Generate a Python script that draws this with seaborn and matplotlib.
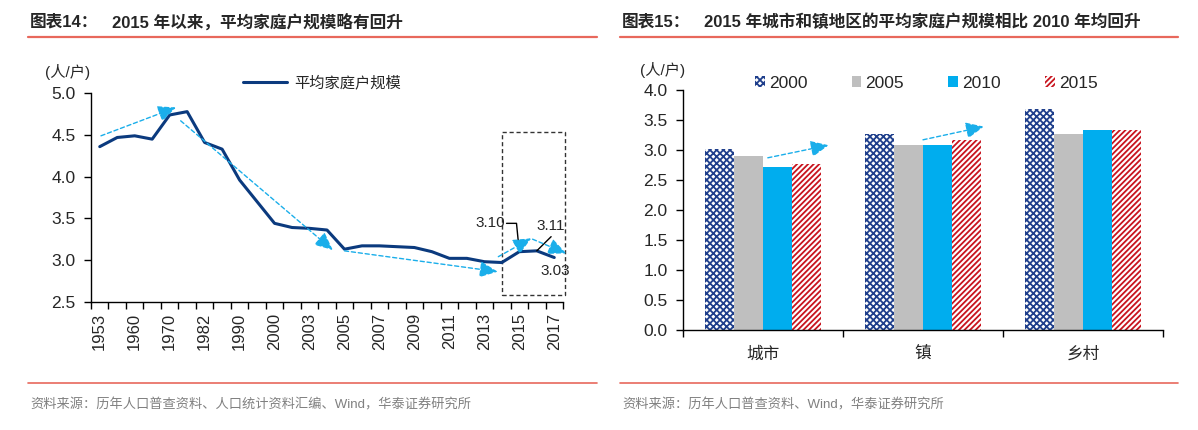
import numpy as np
import pandas as pd
import matplotlib
matplotlib.use("Agg")
import matplotlib.pyplot as plt
from matplotlib.patches import Rectangle, Patch
import seaborn as sns

# ---------------- data ----------------
years = ['1953', '1957', '1960', '1964', '1970', '1975', '1982', '1987', '1990', '1995',
         '2000', '2002', '2003', '2004', '2005', '2006', '2007', '2008', '2009', '2010',
         '2011', '2012', '2013', '2014', '2015', '2016', '2017']
household_size = [4.36, 4.47, 4.49, 4.45, 4.74, 4.78, 4.41, 4.33, 3.96, 3.70,
                  3.44, 3.39, 3.38, 3.36, 3.13, 3.17, 3.17, 3.16, 3.15, 3.10,
                  3.02, 3.02, 2.98, 2.97, 3.10, 3.11, 3.03]
areas = ['城市', '镇', '乡村']
census_years = ['2000', '2005', '2010', '2015']
size_2000 = [3.02, 3.26, 3.68]
size_2005 = [2.90, 3.09, 3.27]
size_2010 = [2.71, 3.08, 3.33]
size_2015 = [2.77, 3.17, 3.33]

W, H = 1198, 430
sns.set_style("ticks")
plt.rcParams['font.family'] = ['Liberation Sans', 'Noto Sans CJK SC', 'DejaVu Sans']
plt.rcParams['hatch.linewidth'] = 1.3
plt.rcParams['axes.linewidth'] = 1.0

NAVY = '#0B3A7E'
ARROW = '#1AAEEA'
RED_LINE = '#E8685C'

fig = plt.figure(figsize=(W / 100, H / 100), dpi=100)


def fx(px):
    return px / W


def fy(py):
    return 1 - py / H


# ---------------- headers / footers ----------------
for x0, x1 in [(28, 597), (620, 1178)]:
    fig.add_artist(plt.Line2D([fx(x0), fx(x1)], [fy(37), fy(37)], color=RED_LINE, lw=1.6))
    fig.add_artist(plt.Line2D([fx(x0), fx(x1)], [fy(383), fy(383)], color=RED_LINE, lw=1.2))

fig.text(fx(30), fy(22), '图表14：', fontsize=12, fontweight='bold', va='center')
fig.text(fx(112), fy(22), '2015 年以来，平均家庭户规模略有回升', fontsize=12, fontweight='bold', va='center')
fig.text(fx(622), fy(22), '图表15：', fontsize=12, fontweight='bold', va='center')
fig.text(fx(704), fy(22), '2015 年城市和镇地区的平均家庭户规模相比 2010 年均回升', fontsize=12,
         fontweight='bold', va='center')
fig.text(fx(30), fy(405), '资料来源：历年人口普查资料、人口统计资料汇编、Wind，华泰证券研究所',
         fontsize=9.5, color='#808080', va='center')
fig.text(fx(622), fy(405), '资料来源：历年人口普查资料、Wind，华泰证券研究所',
         fontsize=9.5, color='#808080', va='center')

# ---------------- left chart ----------------
ax1 = fig.add_axes([fx(91), fy(301.7), fx(563) - fx(91), fy(93.3) - fy(301.7)])
df1 = pd.DataFrame({'idx': np.arange(len(years)), 'size': household_size})
sns.lineplot(data=df1, x='idx', y='size', ax=ax1, color=NAVY, lw=2.2, label='平均家庭户规模')
ax1.set_xlim(-0.5, len(years) - 0.5)
ax1.set_ylim(2.5, 5.0)
ax1.set_yticks(np.arange(2.5, 5.01, 0.5))
ax1.set_yticklabels([f'{v:.1f}' for v in np.arange(2.5, 5.01, 0.5)], fontsize=12.5)
ax1.set_xticks(np.arange(-0.5, len(years), 1.0))
ax1.set_xticklabels([])
ax1.set_xticks(np.arange(0, len(years), 2), minor=True)
ax1.set_xticklabels(years[::2], minor=True, rotation=90, fontsize=12)
ax1.tick_params(axis='x', which='minor', length=0, pad=8)
ax1.tick_params(axis='x', which='major', length=5, width=1, direction='out', color='black')
ax1.tick_params(axis='y', length=5, width=1, direction='out', color='black', pad=6)
ax1.set_xlabel('')
ax1.set_ylabel('')
for s in ['top', 'right']:
    ax1.spines[s].set_visible(False)
for s in ['left', 'bottom']:
    ax1.spines[s].set_color('black')
leg1 = ax1.legend(loc='center left', bbox_to_anchor=(fx(243), fy(83)), bbox_transform=fig.transFigure,
                  frameon=False, fontsize=11, handlelength=2.9, handletextpad=0.45,
                  borderpad=0, borderaxespad=0)
fig.text(fx(45), fy(72), '(人/户)', fontsize=11, va='center')


def arrow(ax, start, tip):
    ax.annotate('', xy=tip, xytext=start,
                arrowprops=dict(arrowstyle='-|>,head_length=1.1,head_width=0.5',
                                linestyle=(0, (3, 2)), color=ARROW, lw=1.0,
                                mutation_scale=10, shrinkA=0, shrinkB=0),
                annotation_clip=False)


arrow(ax1, (0.07, 4.49), (4.36, 4.83))
arrow(ax1, (4.63, 4.67), (13.33, 3.12))
arrow(ax1, (14.0, 3.11), (22.76, 2.86))
arrow(ax1, (22.8, 3.04), (24.68, 3.26))
arrow(ax1, (24.76, 3.25), (26.68, 3.08))

ax1.add_patch(Rectangle((23.0, 2.58), 3.6, 1.95, fill=False, ls=(0, (3, 2)), lw=1.0,
                        edgecolor='#333333', clip_on=False))
ax1.plot([23.27, 23.84, 24.0], [3.44, 3.44, 3.10], color='black', lw=1.0)
ax1.text(23.2, 3.44, f'{household_size[24]:.2f}', ha='right', va='center', fontsize=11)
ax1.plot([25.82, 25.0], [3.28, 3.11], color='black', lw=1.0)
ax1.text(25.77, 3.41, f'{household_size[25]:.2f}', ha='center', va='center', fontsize=11)
ax1.text(26.03, 2.87, f'{household_size[26]:.2f}', ha='center', va='center', fontsize=11)

# ---------------- right chart ----------------
ax2 = fig.add_axes([fx(683), fy(330), fx(1163) - fx(683), fy(90) - fy(330)])
rows = []
for yr, vals in zip(census_years, [size_2000, size_2005, size_2010, size_2015]):
    for a, v in zip(areas, vals):
        rows.append({'area': a, 'year': yr, 'size': v})
df2 = pd.DataFrame(rows)
sns.barplot(data=df2, x='area', y='size', hue='year', ax=ax2, order=areas, hue_order=census_years,
            width=0.73, gap=0, errorbar=None, legend=False)

styles = [dict(facecolor='white', edgecolor='#1F3F8C', hatch='xxxxx'),
          dict(facecolor='#BFBFBF', edgecolor='#BFBFBF', hatch=None),
          dict(facecolor='#00ADEE', edgecolor='#00ADEE', hatch=None),
          dict(facecolor='white', edgecolor='#C8141E', hatch='//////')]
for cont, st in zip(ax2.containers, styles):
    for p in cont:
        p.set_facecolor(st['facecolor'])
        p.set_edgecolor(st['edgecolor'])
        p.set_linewidth(0)
        if st['hatch']:
            p.set_hatch(st['hatch'])

ax2.set_xlim(-0.5, 2.5)
ax2.set_ylim(0, 4.0)
ax2.set_yticks(np.arange(0, 4.01, 0.5))
ax2.set_yticklabels([f'{v:.1f}' for v in np.arange(0, 4.01, 0.5)], fontsize=12.5)
ax2.set_xticks([-0.5, 0.5, 1.5, 2.5])
ax2.set_xticklabels([])
ax2.set_xticks([0, 1, 2], minor=True)
ax2.set_xticklabels(areas, minor=True, fontsize=12)
ax2.tick_params(axis='x', which='minor', length=0, pad=12)
ax2.tick_params(axis='x', which='major', length=5, width=1, direction='out', color='black')
ax2.tick_params(axis='y', length=5, width=1, direction='out', color='black', pad=6)
ax2.set_xlabel('')
ax2.set_ylabel('')
for s in ['top', 'right']:
    ax2.spines[s].set_visible(False)
for s in ['left', 'bottom']:
    ax2.spines[s].set_color('black')
fig.text(fx(640), fy(70), '(人/户)', fontsize=11, va='center')

handles = []
for st, yr in zip(styles, census_years):
    handles.append(Patch(facecolor=st['facecolor'], edgecolor=st['edgecolor'], hatch=st['hatch'],
                         linewidth=0, label=yr))
ax2.legend(handles=handles, loc='center left', bbox_to_anchor=(fx(755), fy(83)),
           bbox_transform=fig.transFigure, ncol=4, frameon=False, fontsize=12.5,
           handlelength=0.55, handleheight=0.55, handletextpad=0.25, columnspacing=2.55,
           borderpad=0, borderaxespad=0)

arrow(ax2, (0.03, 2.87), (0.41, 3.08))
arrow(ax2, (1.0, 3.17), (1.38, 3.39))

fig.savefig('out.png', dpi=100)
